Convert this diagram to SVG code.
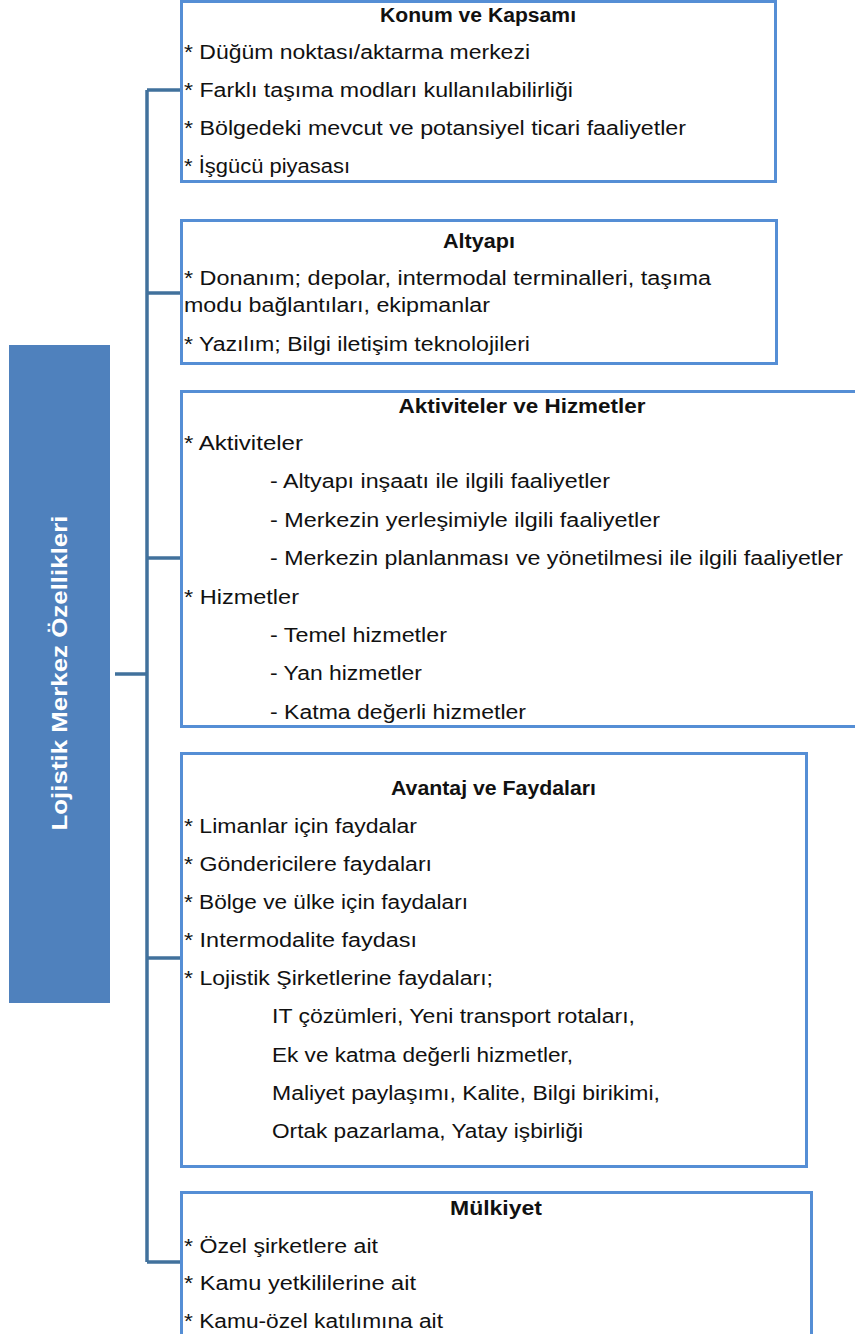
<svg xmlns="http://www.w3.org/2000/svg" width="855" height="1334" viewBox="0 0 855 1334">
  <style>
    .box { fill: #ffffff; stroke: #558ED5; stroke-width: 3; }
    .conn { fill: none; stroke: #41719C; stroke-width: 3.5; }
    text { font-family: "Liberation Sans", Arial, sans-serif; font-size: 19.5px; fill: #111111; }
    .title { font-weight: bold; text-anchor: middle; }
    .root { font-weight: bold; fill: #ffffff; font-size: 22px; text-anchor: middle; }
  </style>

  <!-- connectors -->
  <g id="connectors">
    <path class="conn" d="M147,90 V1262"/>
    <path class="conn" d="M115,674 H147"/>
    <path class="conn" d="M147,90 H181"/>
    <path class="conn" d="M147,293 H181"/>
    <path class="conn" d="M147,558 H181"/>
    <path class="conn" d="M147,958 H181"/>
    <path class="conn" d="M147,1262 H181"/>
  </g>

  <!-- root node -->
  <g id="root">
    <rect x="9" y="345" width="101" height="658" fill="#4F81BD"/>
    <text class="root" transform="translate(67,673) rotate(-90)" x="0" y="0" textLength="315" lengthAdjust="spacingAndGlyphs">Lojistik Merkez Özellikleri</text>
  </g>

  <!-- Konum ve Kapsamı -->
  <g id="konum">
    <rect class="box" x="181.5" y="1.5" width="594" height="180"/>
    <text class="title" x="478" y="22" textLength="196" lengthAdjust="spacingAndGlyphs">Konum ve Kapsamı</text>
    <text x="184" y="59" textLength="346" lengthAdjust="spacingAndGlyphs">* Düğüm noktası/aktarma merkezi</text>
    <text x="184" y="97" textLength="389" lengthAdjust="spacingAndGlyphs">* Farklı taşıma modları kullanılabilirliği</text>
    <text x="184" y="135" textLength="502" lengthAdjust="spacingAndGlyphs">* Bölgedeki mevcut ve potansiyel ticari faaliyetler</text>
    <text x="184" y="173" textLength="166" lengthAdjust="spacingAndGlyphs">* İşgücü piyasası</text>
  </g>

  <!-- Altyapı -->
  <g id="altyapi">
    <rect class="box" x="181.5" y="220.5" width="595" height="143"/>
    <text class="title" x="479" y="248" textLength="72" lengthAdjust="spacingAndGlyphs">Altyapı</text>
    <text x="184" y="285" textLength="527" lengthAdjust="spacingAndGlyphs">* Donanım; depolar, intermodal terminalleri, taşıma</text>
    <text x="184" y="312" textLength="306" lengthAdjust="spacingAndGlyphs">modu bağlantıları, ekipmanlar</text>
    <text x="184" y="351" textLength="346" lengthAdjust="spacingAndGlyphs">* Yazılım; Bilgi iletişim teknolojileri</text>
  </g>

  <!-- Aktiviteler ve Hizmetler -->
  <g id="aktiviteler">
    <rect class="box" x="181.5" y="391.5" width="690" height="335"/>
    <text class="title" x="522" y="413" textLength="247" lengthAdjust="spacingAndGlyphs">Aktiviteler ve Hizmetler</text>
    <text x="184" y="450" textLength="119" lengthAdjust="spacingAndGlyphs">* Aktiviteler</text>
    <text x="270" y="488" textLength="340" lengthAdjust="spacingAndGlyphs">- Altyapı inşaatı ile ilgili faaliyetler</text>
    <text x="270" y="527" textLength="390" lengthAdjust="spacingAndGlyphs">- Merkezin yerleşimiyle ilgili faaliyetler</text>
    <text x="270" y="565" textLength="573" lengthAdjust="spacingAndGlyphs">- Merkezin planlanması ve yönetilmesi ile ilgili faaliyetler</text>
    <text x="184" y="604" textLength="115" lengthAdjust="spacingAndGlyphs">* Hizmetler</text>
    <text x="270" y="642" textLength="177" lengthAdjust="spacingAndGlyphs">- Temel hizmetler</text>
    <text x="270" y="680" textLength="152" lengthAdjust="spacingAndGlyphs">- Yan hizmetler</text>
    <text x="270" y="719" textLength="256" lengthAdjust="spacingAndGlyphs">- Katma değerli hizmetler</text>
  </g>

  <!-- Avantaj ve Faydaları -->
  <g id="avantaj">
    <rect class="box" x="181.5" y="753.5" width="625" height="413"/>
    <text class="title" x="493.5" y="795" textLength="205" lengthAdjust="spacingAndGlyphs">Avantaj ve Faydaları</text>
    <text x="184" y="833" textLength="233" lengthAdjust="spacingAndGlyphs">* Limanlar için faydalar</text>
    <text x="184" y="871" textLength="248" lengthAdjust="spacingAndGlyphs">* Göndericilere faydaları</text>
    <text x="184" y="909" textLength="284" lengthAdjust="spacingAndGlyphs">* Bölge ve ülke için faydaları</text>
    <text x="184" y="947" textLength="233" lengthAdjust="spacingAndGlyphs">* Intermodalite faydası</text>
    <text x="184" y="985" textLength="309" lengthAdjust="spacingAndGlyphs">* Lojistik Şirketlerine faydaları;</text>
    <text x="272" y="1023" textLength="363" lengthAdjust="spacingAndGlyphs">IT çözümleri, Yeni transport rotaları,</text>
    <text x="272" y="1062" textLength="301" lengthAdjust="spacingAndGlyphs">Ek ve katma değerli hizmetler,</text>
    <text x="272" y="1100" textLength="388" lengthAdjust="spacingAndGlyphs">Maliyet paylaşımı, Kalite, Bilgi birikimi,</text>
    <text x="272" y="1138" textLength="311" lengthAdjust="spacingAndGlyphs">Ortak pazarlama, Yatay işbirliği</text>
  </g>

  <!-- Mülkiyet -->
  <g id="mulkiyet">
    <rect class="box" x="181.5" y="1192.5" width="630" height="160"/>
    <text class="title" x="496" y="1215" textLength="92" lengthAdjust="spacingAndGlyphs">Mülkiyet</text>
    <text x="184" y="1253" textLength="194" lengthAdjust="spacingAndGlyphs">* Özel şirketlere ait</text>
    <text x="184" y="1290" textLength="232" lengthAdjust="spacingAndGlyphs">* Kamu yetkililerine ait</text>
    <text x="184" y="1328" textLength="259" lengthAdjust="spacingAndGlyphs">* Kamu-özel katılımına ait</text>
  </g>
</svg>
